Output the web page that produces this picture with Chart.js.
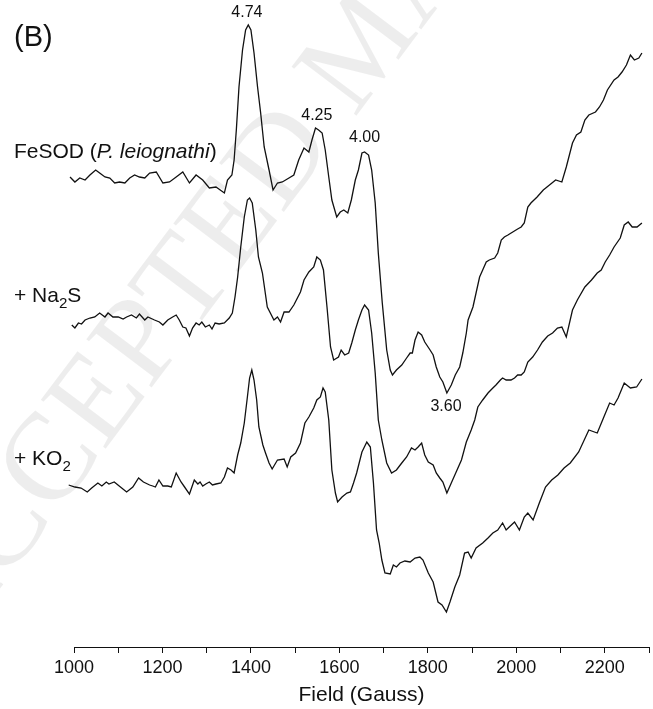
<!DOCTYPE html>
<html>
<head>
<meta charset="utf-8">
<title>EPR spectra</title>
<script src="https://cdn.jsdelivr.net/npm/chart.js@4.4.1/dist/chart.umd.min.js"></script>
<style>
  html, body { margin: 0; padding: 0; background: #fff; }
  #wrap { width: 653px; height: 709px; }
</style>
</head>
<body>
<div id="wrap"><canvas id="epr" width="653" height="709"></canvas></div>
<script>
// EPR spectra (arbitrary intensity, each trace relative to its own baseline)
var fieldFe = [980,991,1002,1013,1025,1036,1049,1058,1070,1081,1092,1103,1115,1126,1137,1148,1160,1171,1186,1201,
    1216,1231,1246,1261,1276,1291,1306,1321,1340,1347,1357,1362,1367,1373,1381,1388,1394,1400,1407,1415,
    1422,1430,1441,1450,1460,1471,1486,1497,1508,1520,1531,1538,1546,1553,1561,1568,1576,1583,1594,1602,
    1610,1619,1627,1636,1643,1651,1657,1666,1673,1681,1688,1697,1707,1715,1720,1729,1741,1752,1760,1765,
    1771,1778,1786,1793,1805,1812,1819,1827,1834,1843,1853,1862,1872,1879,1887,1891,1902,1909,1917,1924,
    1932,1939,1951,1958,1966,1973,1981,1992,2003,2011,2018,2026,2033,2047,2061,2075,2089,2103,2113,2127,
    2136,2146,2155,2164,2179,2188,2197,2206,2221,2230,2239,2249,2258,2267,2277,2284];
var signalFe = [-3,2,-3,1,-1,4,9,6,2,1,-4,-3,-4,1,4,2,1,6,7,-4,
    -3,2,7,-4,4,-1,-9,-8,-14,-1,4,19,49,92,129,149,154,149,126,92,
    66,32,9,-11,-4,-3,1,4,19,31,27,39,51,49,46,29,2,-21,-38,-33,
    -31,-34,-21,-1,9,26,27,24,9,-24,-74,-124,-171,-191,-196,-191,-186,-179,-174,-174,
    -161,-153,-156,-163,-171,-176,-188,-198,-203,-214,-206,-196,-188,-174,-154,-141,-128,-114,-98,-91,
    -83,-81,-79,-74,-61,-58,-56,-53,-50,-48,-44,-28,-24,-18,-11,-6,-1,-3,12,36,
    44,47,59,64,67,72,79,89,99,102,107,114,124,119,121,126];

var fieldNa = [980,987,995,1002,1010,1017,1025,1036,1047,1058,1070,1077,1088,1100,1111,1119,1130,1141,1148,1160,
    1167,1182,1193,1201,1212,1223,1231,1238,1246,1253,1261,1268,1276,1283,1289,1297,1306,1312,1319,1328,
    1340,1351,1358,1364,1370,1377,1385,1392,1397,1403,1411,1417,1426,1437,1452,1460,1467,1475,1486,1497,
    1512,1520,1531,1542,1549,1557,1564,1572,1580,1587,1598,1604,1612,1621,1628,1636,1643,1651,1657,1666,
    1673,1681,1688,1696,1707,1718,1729,1741,1752,1763,1771,1778,1786,1793,1801,1812,1819,1827,1834,1843,
    1853,1864,1876,1887,1898,1906,1913,1924,1936,1947,1954,1964,1969,1977,1988,1996,2003,2011,2018,2026,
    2037,2048,2059,2071,2082,2093,2103,2113,2127,2138,2155,2170,2183,2192,2201,2211,2221,2235,2244,2253,
    2262,2273,2284];
var signalNa = [-11,-4,-6,-9,-4,-5,-1,1,2,6,2,6,2,2,0,2,4,1,5,-1,
    2,-1,-3,-6,-1,2,4,-1,-8,-9,-17,-9,-4,-6,-3,-8,-6,-10,-4,-5,
    -4,1,6,22,42,72,102,119,121,116,89,62,46,12,-1,2,-3,7,7,14,
    27,39,47,52,62,59,49,12,-28,-41,-38,-31,-36,-34,-24,-11,-1,9,14,9,
    -14,-54,-101,-121,-144,-154,-151,-144,-138,-129,-131,-128,-124,-136,-143,-146,-154,-159,-163,-174,
    -164,-153,-141,-123,-111,-101,-88,-81,-74,-69,-66,-61,-59,-61,-61,-59,-56,-56,-53,-43,
    -38,-31,-23,-17,-14,-9,-8,-18,9,19,32,39,46,49,57,64,72,81,94,97,
    92,92,96];

var fieldKO = [980,988,1002,1016,1030,1040,1054,1063,1073,1079,1091,1105,1119,1133,1146,1157,1171,1178,1184,1192,
    1201,1212,1220,1231,1242,1250,1261,1272,1280,1285,1291,1298,1306,1313,1321,1332,1340,1347,1355,1362,
    1370,1377,1385,1392,1397,1402,1407,1413,1418,1427,1433,1441,1448,1460,1475,1482,1490,1501,1512,1522,
    1531,1542,1549,1557,1563,1568,1576,1583,1591,1596,1606,1617,1625,1632,1639,1651,1662,1670,1677,1684,
    1690,1696,1703,1715,1722,1729,1737,1748,1760,1771,1782,1789,1801,1812,1823,1832,1842,1850,1861,1872,
    1883,1891,1898,1909,1924,1936,1947,1958,1969,1977,1984,1996,2007,2018,2026,2038,2052,2066,2080,2094,
    2108,2122,2141,2164,2183,2197,2211,2221,2230,2244,2258,2272,2284];
var signalKO = [2,-1,-3,-4,-8,-4,1,-2,2,0,2,-3,-8,-3,6,2,-1,-2,-3,4,
    -2,-2,-3,11,2,-3,-10,4,0,2,-2,0,2,-1,0,1,7,16,14,11,
    29,41,61,87,106,114,104,84,57,39,31,21,15,24,25,17,27,31,41,61,
    67,76,84,87,96,92,64,14,-9,-18,-13,-9,-8,1,11,32,42,37,1,-46,
    -59,-76,-89,-90,-81,-83,-79,-77,-78,-74,-73,-76,-89,-98,-118,-121,-128,-118,-103,-91,
    -69,-68,-74,-64,-59,-54,-49,-46,-39,-46,-43,-38,-46,-33,-29,-36,-19,-3,4,9,
    16,21,32,54,51,66,81,79,86,101,96,97,105];

var xTickLabels = ['1000', '1200', '1400', '1600', '1800', '2000', '2200'];
var gLabels = ['4.74', '4.25', '4.00', '3.60'];
var gFields = [1391, 1549, 1657, 1841];

// layout / style
var FONT = '"Liberation Sans", Arial, Helvetica, sans-serif';
var stackOffset = [468, 328, 163];
var gLabelY = [634, 531, 509, 240];

function pts(fields, sig, off) {
    return fields.map(function (f, i) { return { x: f, y: sig[i] + off }; });
}

function traceSet(fields, sig, off) {
    return {
        data: pts(fields, sig, off),
        borderColor: '#111',
        borderWidth: 1.3,
        pointRadius: 0,
        tension: 0,
        clip: false,
        fill: false
    };
}

var watermark = {
    id: 'watermark',
    beforeDatasetsDraw: function (chart) {
        var ctx = chart.ctx;
        ctx.save();
        ctx.translate(-50, 655);
        ctx.rotate(-53 * Math.PI / 180);
        ctx.font = '124px "Liberation Serif", "Times New Roman", serif';
        ctx.fillStyle = 'rgba(0,0,0,0.07)';
        ctx.textBaseline = 'alphabetic';
        ctx.fillText('ACCEPTED MANUSCRIPT', 0, 0);
        ctx.restore();
    }
};

function richText(ctx, parts, x, y, size) {
    // parts: [text, 'n' normal | 'i' italic | 's' subscript]
    parts.forEach(function (p) {
        var s = p[1] === 's' ? size * 0.72 : size;
        var st = p[1] === 'i' ? 'italic ' : '';
        ctx.font = st + s + 'px ' + FONT;
        ctx.fillText(p[0], x, p[1] === 's' ? y + size * 0.28 : y);
        x += ctx.measureText(p[0]).width;
    });
}

var labels = {
    id: 'labels',
    afterDraw: function (chart) {
        var ctx = chart.ctx;
        var xs = chart.scales.x, ys = chart.scales.y;
        ctx.save();
        ctx.fillStyle = '#111';
        ctx.textBaseline = 'alphabetic';
        ctx.textAlign = 'left';
        ctx.font = '29px ' + FONT;
        ctx.fillText('(B)', 14, 46);

        richText(ctx, [['FeSOD (', 'n'], ['P. leiognathi', 'i'], [')', 'n']], 14, 158, 21);
        richText(ctx, [['+ Na', 'n'], ['2', 's'], ['S', 'n']], 14, 302, 21);
        richText(ctx, [['+ KO', 'n'], ['2', 's']], 14, 465, 21);

        ctx.font = '16px ' + FONT;
        ctx.textAlign = 'center';
        ctx.textBaseline = 'middle';
        gLabels.forEach(function (t, i) {
            ctx.fillText(t, xs.getPixelForValue(gFields[i]), ys.getPixelForValue(gLabelY[i]));
        });
        ctx.restore();
    }
};

new Chart(document.getElementById('epr').getContext('2d'), {
    type: 'line',
    data: {
        datasets: [
            traceSet(fieldFe, signalFe, stackOffset[0]),
            traceSet(fieldNa, signalNa, stackOffset[1]),
            traceSet(fieldKO, signalKO, stackOffset[2])
        ]
    },
    options: {
        responsive: false,
        animation: false,
        devicePixelRatio: 1,
        layout: { padding: { left: 74, right: 2, top: 0, bottom: 0 } },
        plugins: { legend: { display: false }, tooltip: { enabled: false } },
        scales: {
            x: {
                type: 'linear',
                min: 1000,
                max: 2300,
                border: { display: true, color: '#111', width: 1 },
                grid: { drawOnChartArea: false, drawTicks: true, tickLength: 6, color: '#111', tickColor: '#111' },
                ticks: {
                    stepSize: 100,
                    autoSkip: false,
                    maxRotation: 0,
                    padding: 4,
                    color: '#111',
                    font: { family: FONT, size: 18 },
                    callback: function (v) {
                        var i = xTickLabels.indexOf(String(v));
                        return i >= 0 ? xTickLabels[i] : '';
                    }
                },
                title: {
                    display: true,
                    text: 'Field (Gauss)',
                    color: '#111',
                    font: { family: FONT, size: 21 },
                    padding: { top: 0, bottom: 1 }
                },
                afterFit: function (s) { s.height = 62; }
            },
            y: { display: false, min: 0, max: 647 }
        }
    },
    plugins: [watermark, labels]
});
</script>
</body>
</html>
